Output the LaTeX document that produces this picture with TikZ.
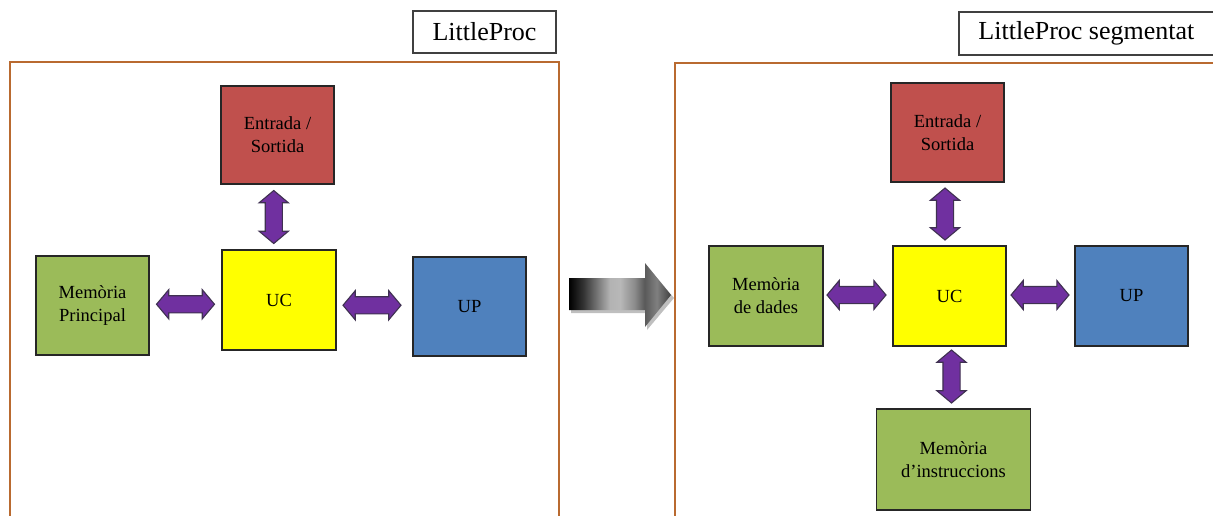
\documentclass[tikz,border=0pt]{standalone}
\usepackage{fontspec}
\setmainfont{Liberation Serif}
\usetikzlibrary{shapes.arrows,calc,shadows}
\definecolor{bxred}{HTML}{C0504D}
\definecolor{bxgreen}{HTML}{9BBB59}
\definecolor{bxblue}{HTML}{4F81BD}
\definecolor{bxyellow}{HTML}{FFFF00}
\definecolor{arrpurple}{HTML}{7030A0}
\definecolor{arredge}{HTML}{3F3151}
\definecolor{frameor}{HTML}{B96A30}
\pgfdeclarehorizontalshading{bigarrowshade}{100bp}{%
  color(0bp)=(black); color(25bp)=(black); color(32bp)=(black!80); color(45bp)=(black!30);
  color(50bp)=(black!28); color(57bp)=(black!45); color(62bp)=(black!65);
  color(68bp)=(black!50); color(75bp)=(black!75); color(100bp)=(black!75)}
\tikzset{
  px/.style={x=1pt,y=-1pt},
  blockbox/.style={draw=black!85, line width=1.3pt, inner sep=0pt, align=center,
    font=\fontsize{18.5}{23}\selectfont, text=black},
  titlebox/.style={draw=black!75, line width=1.8pt, fill=white, inner sep=0pt,
    font=\fontsize{26}{30}\selectfont},
  panel/.style={draw=frameor, line width=1.6pt},
  dblarrow/.style={double arrow, fill=arrpurple, draw=arredge, line width=1.1pt,
    minimum width=28pt, double arrow head extend=6pt, double arrow tip angle=100,
    inner xsep=0pt, inner ysep=8pt},
}
\begin{document}
\begin{tikzpicture}[px]
\useasboundingbox (0,0) rectangle (1213,515);
% panels
\draw[panel] (10,520) -- (10,62) -- (559,62) -- (559,520);
\draw[panel] (675,520) -- (675,63) -- (1220,63);
% titles
\node[titlebox, minimum width=143pt, minimum height=42pt] (t1) at (484.5,32) {LittleProc};
\node[titlebox, minimum width=255pt, minimum height=43pt, anchor=west] (t2) at (958,33.5) {LittleProc segmentat};
% left blocks
\node[blockbox, fill=bxred, minimum width=113pt, minimum height=98pt] (es1) at (277.5,135) {Entrada /\\Sortida};
\node[blockbox, fill=bxyellow, minimum width=114pt, minimum height=100pt] (uc1) at (279,300) {UC};
\node[blockbox, fill=bxgreen, minimum width=113pt, minimum height=99pt] (mp) at (92.5,305.5) {Memòria\\Principal};
\node[blockbox, fill=bxblue, minimum width=113pt, minimum height=99pt] (up1) at (469.5,306.5) {UP};
% left arrows
\node[dblarrow, minimum height=58pt] (a1) at ($(mp.east)!0.5!(uc1.west)+(0,1.5)$) {};
\node[dblarrow, minimum height=58pt] (a2) at ($(uc1.east)!0.5!(up1.west)+(-2.5,2)$) {};
\node[dblarrow, minimum height=53pt, rotate=90] (a3) at ($(es1.south)!0.5!(uc1.north)+(-4.5,0)$) {};
% big arrow
\fill[black!25] (571,281) -- (647,281) -- (647,266) -- (674,298) -- (647,330) -- (647,313) -- (571,313) -- cycle;
\shade[shading=bigarrowshade] (569,278) -- (645,278) -- (645,263) -- (671,295) -- (645,327) -- (645,310) -- (569,310) -- cycle;
% right blocks
\node[blockbox, fill=bxred, minimum width=113pt, minimum height=99pt] (es2) at (947.5,132.5) {Entrada /\\Sortida};
\node[blockbox, fill=bxyellow, minimum width=113pt, minimum height=100pt] (uc2) at (949.5,296) {UC};
\node[blockbox, fill=bxgreen, minimum width=114pt, minimum height=100pt] (md) at (766,296) {Memòria\\de dades};
\node[blockbox, fill=bxblue, minimum width=113pt, minimum height=100pt] (up2) at (1131.5,296) {UP};
\node[blockbox, fill=bxgreen, minimum width=154pt, minimum height=101pt] (mi) at (953.5,459.5) {Memòria\\d’instruccions};
% right arrows
\node[dblarrow, minimum height=59pt] (b1) at ($(md.east)!0.5!(uc2.west)+(-1.5,-1)$) {};
\node[dblarrow, minimum height=58pt] (b2) at ($(uc2.east)!0.5!(up2.west)+(-0.5,-1)$) {};
\node[dblarrow, minimum height=52pt, rotate=90] (b3) at ($(es2.south)!0.5!(uc2.north)+(-3.5,0)$) {};
\node[dblarrow, minimum height=53pt, rotate=90] (b4) at ($(uc2.south)!0.5!(mi.north)+(0,-1)$) {};
\end{tikzpicture}
\end{document}
